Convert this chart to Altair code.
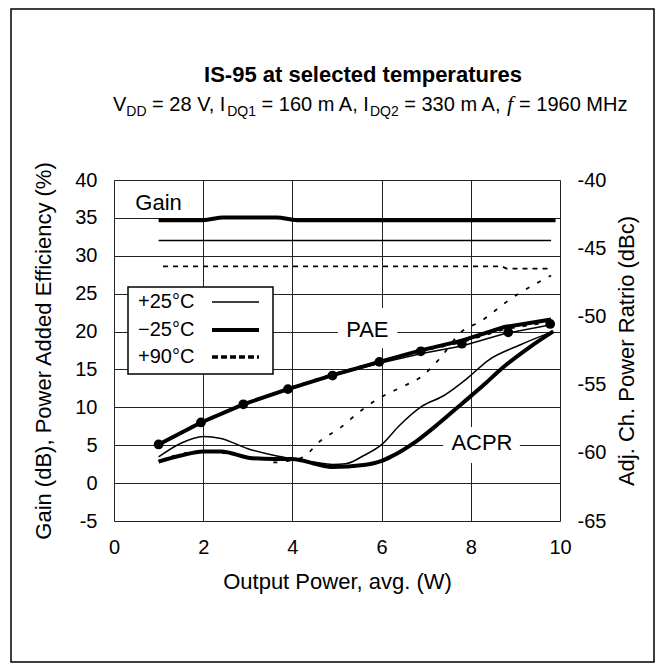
import altair as alt
import pandas as pd

# ---------------- data ----------------
temps = ["+25°C", "\u221225°C", "+90°C"]

x_ticks = [0, 2, 4, 6, 8, 10]
left_ticks = [-5, 0, 5, 10, 15, 20, 25, 30, 35, 40]
right_ticks = [-65, -60, -55, -50, -45, -40]

# Gain (dB)
gain25_x = [1.0, 9.8]
gain25_y = [32.0, 32.0]
gainm25_x = [1.0, 2.0, 2.45, 3.65, 4.1, 9.9]
gainm25_y = [34.7, 34.7, 35.05, 35.05, 34.7, 34.7]
gain90_x = [1.1, 8.7, 8.8, 9.8]
gain90_y = [28.6, 28.6, 28.3, 28.3]

# Power added efficiency (%)
pae_x = [1.0, 1.95, 2.9, 3.9, 4.85, 5.95, 6.9, 7.8, 8.75, 9.8]
pae25_y = [5.0, 7.9, 10.3, 12.3, 14.1, 15.8, 17.1, 18.1, 19.7, 20.9]
paem25_y = [5.1, 8.0, 10.4, 12.4, 14.15, 16.0, 17.55, 18.8, 20.6, 21.6]
pae90_y = [5.2, 8.1, 10.5, 12.5, 14.3, 16.1, 17.4, 18.6, 20.3, 21.3]
dots_x = [1.0, 1.95, 2.9, 3.9, 4.9, 5.95, 6.88, 7.8, 8.84, 9.78]
dots_y = [5.1, 8.0, 10.4, 12.4, 14.2, 16.0, 17.4, 18.4, 19.9, 21.0]

# ACPR (dBc)
acpr25_x = [1.0, 1.5, 2.0, 2.4, 3.0, 3.6, 4.0, 4.5, 4.9, 5.2, 5.6, 6.0, 6.4, 6.9, 7.4, 7.9, 8.4, 9.1, 9.85]
acpr25_y = [-60.3, -59.3, -58.8, -58.95, -59.7, -60.2, -60.45, -60.7, -60.85, -60.8, -60.2, -59.4, -58.0,
            -56.6, -55.8, -54.6, -53.2, -52.1, -51.1]
acprm25_x = [1.0, 1.5, 2.0, 2.4, 3.1, 3.6, 4.0, 4.5, 4.9, 5.6, 6.0, 6.2, 6.8, 7.3, 7.8, 8.3, 8.7, 9.3, 9.85]
acprm25_y = [-60.65, -60.2, -59.9, -59.9, -60.4, -60.45, -60.45, -60.8, -61.05, -60.9, -60.6, -60.3, -59.1,
             -57.8, -56.4, -55.0, -53.8, -52.3, -51.1]
acpr90_x = [1.0, 1.5, 1.9, 2.4, 3.0, 3.4, 3.6, 3.9, 4.25, 4.6, 5.1, 5.5, 6.0, 6.5, 6.9, 7.3, 7.8, 8.2, 8.9, 9.8]
acpr90_y = [-60.6, -60.1, -59.9, -60.0, -60.3, -60.5, -60.7, -60.6, -60.3, -59.2, -58.1, -57.0, -55.9,
            -55.1, -54.4, -53.1, -51.1, -50.4, -48.7, -47.0]

# annotation labels (data coordinates, left axis)
ann_text = ["Gain", "PAE", "ACPR"]
ann_x = [1.0, 5.68, 8.25]
ann_y = [36.9, 20.2, 5.3]
# white boxes behind PAE / ACPR
box_x = [5.02, 7.38]
box_x2 = [6.35, 9.1]
box_y = [23.1, 7.4]
box_y2 = [17.8, 2.65]

title = "IS-95 at selected temperatures"
sub_parts = ["V", "DD", " = 28 V, I", "DQ1", " = 160 m A, I", "DQ2", " = 330 m A, ", "f", " = 1960 MHz"]
sub_is_sub = [False, True, False, True, False, True, False, False, False]
x_title = "Output Power, avg. (W)"
yl_title = "Gain (dB), Power Added Efficiency (%)"
yr_title = "Adj. Ch. Power Ratrio (dBc)"

# ---------------- chart ----------------
FONT = "Liberation Sans"
W, H = 446, 341
MINUS_FIX = "replace(datum.label, '\u2212', '-')"


def df(xs, ys):
    return pd.DataFrame({"x": xs, "y": ys})


X = alt.X("x:Q", scale=alt.Scale(domain=[0, 10], nice=False, zero=False),
          axis=alt.Axis(values=x_ticks, title=x_title, grid=True, ticks=False, domain=False,
                        labelFontSize=20, titleFontSize=22, labelPadding=16, titlePadding=14,
                        labelFont=FONT, titleFont=FONT, titleFontWeight="normal",
                        labelColor="black", titleColor="black",
                        gridColor="#222", gridWidth=1, labelFlush=False))
YL = alt.Y("y:Q", scale=alt.Scale(domain=[-5, 40], nice=False, zero=False),
           axis=alt.Axis(values=left_ticks, title=yl_title, grid=True, ticks=False, domain=False,
                         labelFontSize=20, titleFontSize=22, labelPadding=17,
                         titleX=-71, titleY=H / 2, titleAngle=270, titleBaseline="middle", titleAlign="center",
                         labelExpr=MINUS_FIX,
                         labelFont=FONT, titleFont=FONT, titleFontWeight="normal",
                         labelColor="black", titleColor="black",
                         gridColor="#222", gridWidth=1, labelFlush=False))
YR = alt.Y("y:Q", scale=alt.Scale(domain=[-65, -40], nice=False, zero=False),
           axis=alt.Axis(values=right_ticks, title=yr_title, orient="right", grid=False, ticks=False,
                         domain=False, labelFontSize=20, titleFontSize=22, labelPadding=17,
                         titleX=66, titleY=H / 2, titleAngle=270, titleBaseline="middle", titleAlign="center",
                         labelExpr=MINUS_FIX,
                         labelFont=FONT, titleFont=FONT, titleFontWeight="normal",
                         labelColor="black", titleColor="black", labelFlush=False))


def lline(xs, ys, width, dash=None, interp="linear"):
    kw = dict(color="black", strokeWidth=width, interpolate=interp, strokeCap="butt")
    if dash:
        kw["strokeDash"] = dash
    return alt.Chart(df(xs, ys)).mark_line(**kw).encode(x=X, y=YL)


def rline(xs, ys, width, dash=None, interp="monotone"):
    kw = dict(color="black", strokeWidth=width, interpolate=interp, strokeCap="butt")
    if dash:
        kw["strokeDash"] = dash
    return alt.Chart(df(xs, ys)).mark_line(**kw).encode(x=X, y=YR)


boxes = alt.Chart(pd.DataFrame({"x": box_x, "x2": box_x2, "y": box_y, "y2": box_y2})).mark_rect(
    fill="white").encode(x=X, x2="x2:Q", y=YL, y2="y2:Q")

labels = alt.Chart(pd.DataFrame({"x": ann_x, "y": ann_y, "t": ann_text})).mark_text(
    font=FONT, fontSize=22, color="black", align="center", baseline="middle").encode(x=X, y=YL, text="t:N")

dots = alt.Chart(df(dots_x, dots_y)).mark_point(filled=True, size=95, color="black", opacity=1).encode(x=X, y=YL)

# legend box (layout in pixels)
leg_box = alt.Chart(pd.DataFrame({"a": [0]})).mark_rect(fill="white", stroke="black", strokeWidth=1.5).encode(
    x=alt.value(14), x2=alt.value(159), y=alt.value(107), y2=alt.value(194))
leg_rows = [122, 150, 177]
leg_text = alt.Chart(pd.DataFrame({"t": temps, "py": leg_rows})).mark_text(
    font=FONT, fontSize=20, color="black", align="left", baseline="middle").encode(
    text="t:N", x=alt.value(24), y=alt.Y("py:Q", scale=None))
leg_styles = [(1.5, None), (4, None), (3.5, [6, 3])]
leg_lines = []
for (w, d), py in zip(leg_styles, leg_rows):
    kw = dict(color="black", strokeWidth=w, strokeCap="butt")
    if d:
        kw["strokeDash"] = d
    leg_lines.append(alt.Chart(pd.DataFrame({"a": [0]})).mark_rule(**kw).encode(
        x=alt.value(98), x2=alt.value(145), y=alt.value(py)))

# outer frame and titles (pixels relative to plot origin)
frame = alt.Chart(pd.DataFrame({"a": [0]})).mark_rect(fill=None, stroke="black", strokeWidth=1.5).encode(
    x=alt.value(-103), x2=alt.value(540), y=alt.value(-171), y2=alt.value(482))
title_mark = alt.Chart(pd.DataFrame({"t": [title]})).mark_text(
    font=FONT, fontSize=22, fontWeight="bold", color="black", align="center", baseline="alphabetic").encode(
    text="t:N", x=alt.value(249), y=alt.value(-98))

# subtitle laid out piece by piece with Arial advance widths
# (SVG drops leading/trailing blanks, so blanks only move the cursor)
ADV = {" ": .278, "=": .584, ",": .278, "V": .667, "I": .278, "m": .833, "A": .667, "M": .833,
       "H": .722, "z": .5, "D": .722, "Q": .778, "f": .32}
for d in "0123456789":
    ADV[d] = .556
MAIN_FS, SUB_FS = 20, 14
cursor = -1.0
sub_marks = []
for txt, isub in zip(sub_parts, sub_is_sub):
    fs = SUB_FS if isub else MAIN_FS
    lead = len(txt) - len(txt.lstrip(" "))
    shown = txt.strip(" ")
    kw = dict(font=FONT, fontSize=fs, color="black", align="left", baseline="alphabetic")
    if shown == "f":
        kw["font"] = "Liberation Serif"
        kw["fontStyle"] = "italic"
        kw["fontSize"] = 22
    sub_marks.append(alt.Chart(pd.DataFrame({"t": [shown]})).mark_text(**kw).encode(
        text="t:N", x=alt.value(cursor + lead * ADV[" "] * fs),
        y=alt.value(-69 + (5 if isub else 0))))
    cursor += sum(ADV.get(c, .556) for c in txt) * fs

left = alt.layer(
    boxes,
    lline(gain25_x, gain25_y, 1.5),
    lline(gainm25_x, gainm25_y, 4, interp="monotone"),
    lline(gain90_x, gain90_y, 1.8, dash=[5, 5]),
    lline(pae_x, pae25_y, 1.5),
    lline(pae_x, pae90_y, 1.8, dash=[4, 8]),
    lline(pae_x, paem25_y, 4),
    dots,
    labels,
    leg_box, leg_text, *leg_lines,
    frame, title_mark, *sub_marks,
)
right = alt.layer(
    rline(acpr25_x, acpr25_y, 1.5),
    rline(acpr90_x, acpr90_y, 1.8, dash=[4, 9]),
    rline(acprm25_x, acprm25_y, 4),
)

chart = alt.layer(left, right).resolve_scale(y="independent").properties(
    width=W, height=H,
    autosize=alt.AutoSizeParams(type="none"),
    padding={"left": 106, "top": 172, "right": 97, "bottom": 142},
).configure_view(stroke="black", strokeWidth=2.5).configure(background="white")

chart.save("out.html", embed_options={"renderer": "svg", "actions": False})
